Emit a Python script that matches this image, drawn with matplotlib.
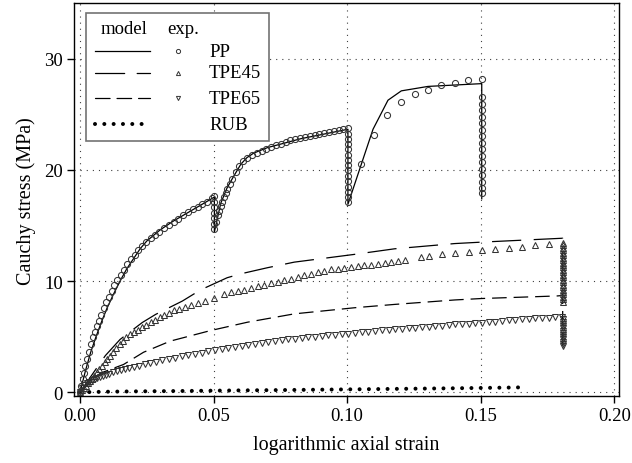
import numpy as np
import matplotlib.pyplot as plt
from matplotlib.patches import Rectangle

plt.rcParams['font.family'] = ['Liberation Serif', 'DejaVu Serif']
plt.rcParams['lines.scale_dashes'] = False
plt.rcParams['font.size'] = 13.5

# ---------------------------------------------------------------- data
# PP model (solid), incl. the three unloading drops
pp_model_x = [0, 0.002, 0.004, 0.006, 0.008, 0.010, 0.0125, 0.015, 0.0175, 0.02, 0.0225, 0.025,
              0.03, 0.035, 0.04, 0.045, 0.0503, 0.0503,
              0.0527, 0.0551, 0.0576, 0.0602, 0.0625, 0.065, 0.0702, 0.0765, 0.0827, 0.089, 0.0952,
              0.1003, 0.1003,
              0.1097, 0.1153, 0.1203, 0.1303, 0.1504, 0.1504]
pp_model_y = [0, 1.9, 3.6, 5.0, 6.3, 7.5, 8.8, 10.0, 11.1, 12.0, 12.9, 13.6,
              14.6, 15.4, 16.1, 16.8, 17.55, 14.4,
              17.0, 18.4, 19.45, 20.5, 21.1, 21.5, 22.0, 22.4, 22.8, 23.1, 23.4,
              23.65, 16.9,
              23.65, 26.26, 27.1, 27.5, 27.75, 17.4]

# PP experiment (circles)
pp_load1_x = [0, 0.0005, 0.001, 0.0015, 0.002, 0.0027, 0.0034, 0.0041, 0.0048, 0.0056, 0.0064,
              0.0072, 0.008, 0.0089, 0.0098, 0.0108, 0.0118, 0.0129, 0.014, 0.0152, 0.0164,
              0.0177, 0.019, 0.0204, 0.0218, 0.0233, 0.0248, 0.0264, 0.028, 0.0297, 0.0314,
              0.0332, 0.035, 0.0368, 0.0386, 0.0404, 0.0422, 0.044, 0.0458, 0.0476, 0.0494, 0.0503]
pp_load1_y = [0, 0.6, 1.15, 1.75, 2.35, 3.0, 3.65, 4.35, 4.95, 5.45, 5.95,
              6.45, 6.95, 7.55, 8.1, 8.6, 9.1, 9.65, 10.1, 10.55, 11.0,
              11.5, 11.95, 12.35, 12.75, 13.15, 13.5, 13.85, 14.15, 14.45, 14.75,
              15.05, 15.35, 15.6, 15.9, 16.2, 16.45, 16.65, 16.9, 17.15, 17.45, 17.65]
pp_unload1_y = [17.15, 16.65, 16.15, 15.65, 15.15, 14.65]
pp_load2_x = [0.0509, 0.0515, 0.052, 0.0526, 0.0532, 0.0539, 0.0545, 0.0551, 0.056, 0.057, 0.0583,
              0.0597, 0.0612, 0.0627, 0.0644, 0.0662, 0.068, 0.0698, 0.0716, 0.0734, 0.0752,
              0.077, 0.0788, 0.0806, 0.0824, 0.0842, 0.086, 0.0878, 0.0896, 0.0914, 0.0932,
              0.095, 0.0968, 0.0986, 0.1003]
pp_load2_y = [15.3, 15.9, 16.3, 16.75, 17.15, 17.55, 17.9, 18.25, 18.7, 19.15, 19.8,
              20.35, 20.75, 21.05, 21.3, 21.5, 21.7, 21.9, 22.05, 22.2, 22.35,
              22.5, 22.65, 22.75, 22.85, 22.95, 23.0, 23.1, 23.2, 23.3, 23.4,
              23.45, 23.55, 23.65, 23.75]
pp_unload2_y = [23.25, 22.8, 22.3, 21.85, 21.35, 20.9, 20.4, 19.95, 19.45, 19.0, 18.5, 18.05,
                17.55, 17.1]
pp_load3_x = [0.1053, 0.11, 0.115, 0.12, 0.1253, 0.1303, 0.1353, 0.1403, 0.1453, 0.1504]
pp_load3_y = [20.5, 23.1, 24.9, 26.1, 26.8, 27.2, 27.6, 27.85, 28.05, 28.2]
pp_unload3_y = [26.55, 25.95, 25.35, 24.75, 24.2, 23.6, 23.0, 22.45, 21.85, 21.25, 20.7, 20.1,
                19.5, 18.95, 18.4, 17.95]

# TPE45 model (long dashes) and experiment (up triangles)
tpe45_model_x = [0, 0.005, 0.0095, 0.015, 0.0233, 0.0283, 0.0383, 0.0451, 0.0551, 0.0602, 0.0702,
                 0.0802, 0.0915, 0.1028, 0.1178, 0.1403, 0.1504, 0.1807, 0.1807]
tpe45_model_y = [0, 1.75, 3.3, 4.75, 6.27, 7.0, 8.2, 9.2, 10.3, 10.65, 11.2,
                 11.7, 12.05, 12.4, 12.9, 13.37, 13.5, 13.85, 8.1]
tpe45_exp_x = [0, 0.0007, 0.0014, 0.0021, 0.0029, 0.0037, 0.0045, 0.0054, 0.0063, 0.0072, 0.0082,
               0.0092, 0.0102, 0.0113, 0.0124, 0.0136, 0.0148, 0.0161, 0.0174, 0.0188, 0.0202,
               0.0217, 0.0232, 0.0248, 0.0264, 0.0281, 0.0298, 0.0316, 0.0334, 0.0353, 0.0372,
               0.0393, 0.0415, 0.044, 0.0468, 0.05, 0.054, 0.0565, 0.059, 0.0615, 0.064, 0.0665,
               0.069, 0.0715, 0.074, 0.0765, 0.079, 0.0815, 0.084, 0.0865, 0.089, 0.0915, 0.094,
               0.0965, 0.099, 0.1015, 0.104, 0.1065, 0.109, 0.1115, 0.114, 0.1165, 0.119, 0.1215,
               0.1275, 0.1305, 0.1355, 0.1405, 0.1455, 0.1505, 0.1555, 0.1605, 0.1655, 0.1705,
               0.1755, 0.1807]
tpe45_exp_y = [0, 0.2, 0.4, 0.6, 0.8, 0.98, 1.17, 1.48, 1.78, 2.07, 2.38,
               2.7, 3.0, 3.3, 3.6, 3.95, 4.3, 4.65, 4.95, 5.2, 5.42,
               5.63, 5.84, 6.06, 6.28, 6.53, 6.74, 6.96, 7.16, 7.36, 7.5,
               7.65, 7.82, 8.02, 8.24, 8.48, 8.82, 8.98, 9.1, 9.23, 9.38, 9.52,
               9.66, 9.8, 9.93, 10.05, 10.2, 10.36, 10.52, 10.66, 10.8, 10.93, 11.04,
               11.12, 11.18, 11.24, 11.32, 11.4, 11.47, 11.54, 11.63, 11.72, 11.82, 11.92,
               12.18, 12.27, 12.4, 12.53, 12.65, 12.77, 12.87, 13.0, 13.1, 13.25,
               13.37, 13.46]
tpe45_unload_y = [13.2, 12.98, 12.76, 12.54, 12.32, 12.1, 11.88, 11.66, 11.44, 11.22, 11.0, 10.78,
                  10.56, 10.34, 10.12, 9.9, 9.68, 9.46, 9.24, 9.02, 8.8, 8.58, 8.36, 8.1]

# TPE65 model (medium dashes) and experiment (down triangles)
tpe65_model_x = [0, 0.004, 0.008, 0.0163, 0.0238, 0.0338, 0.0489, 0.0627, 0.0802, 0.1028, 0.1178,
                 0.1403, 0.1504, 0.1786, 0.1807, 0.1807]
tpe65_model_y = [0, 1.0, 1.75, 2.5, 3.6, 4.6, 5.55, 6.3, 7.05, 7.6, 7.9,
                 8.3, 8.43, 8.66, 8.7, 4.2]
tpe65_exp_x = [0, 0.0008, 0.0016, 0.0025, 0.0035, 0.0045, 0.0055, 0.0065, 0.0075, 0.0086, 0.0098,
               0.011, 0.0123, 0.0137, 0.0152, 0.0168, 0.0185, 0.0203, 0.0222, 0.0242, 0.0263,
               0.0285, 0.0308, 0.0332, 0.0356, 0.038, 0.0405, 0.043, 0.0455, 0.048, 0.0505, 0.053,
               0.0555, 0.058, 0.0605, 0.063, 0.0655, 0.068, 0.0705, 0.073, 0.0755, 0.078, 0.0805,
               0.083, 0.0855, 0.088, 0.0905, 0.093, 0.0955, 0.098, 0.1005, 0.103, 0.1055, 0.108,
               0.1105, 0.113, 0.1155, 0.118, 0.1205, 0.123, 0.1255, 0.128, 0.1305, 0.133, 0.1355,
               0.138, 0.1405, 0.143, 0.1455, 0.148, 0.1505, 0.153, 0.1555, 0.158, 0.1605, 0.163,
               0.1655, 0.168, 0.1705, 0.173, 0.1755, 0.178, 0.1805]
tpe65_exp_y = [0, 0.35, 0.62, 0.8, 0.95, 1.08, 1.18, 1.28, 1.37, 1.46, 1.56,
               1.67, 1.78, 1.88, 1.97, 2.06, 2.16, 2.27, 2.38, 2.5, 2.62,
               2.74, 2.86, 2.99, 3.11, 3.23, 3.33, 3.43, 3.55, 3.67, 3.79, 3.9,
               4.0, 4.09, 4.18, 4.27, 4.36, 4.45, 4.53, 4.6, 4.68, 4.75, 4.83,
               4.89, 4.95, 5.01, 5.07, 5.13, 5.18, 5.23, 5.28, 5.34, 5.4, 5.46,
               5.51, 5.56, 5.62, 5.67, 5.72, 5.77, 5.82, 5.86, 5.91, 5.95, 6.0,
               6.05, 6.1, 6.13, 6.17, 6.22, 6.27, 6.31, 6.36, 6.41, 6.46, 6.51,
               6.56, 6.6, 6.64, 6.68, 6.72, 6.76, 6.8]
tpe65_unload_y = [6.55, 6.35, 6.15, 5.95, 5.75, 5.55, 5.35, 5.15, 4.95, 4.75, 4.55, 4.35, 4.16]

# RUB model (dots)
rub_x = [0, 0.01, 0.02, 0.04, 0.06, 0.08, 0.10, 0.12, 0.14, 0.16, 0.167]
rub_y = [0.0, 0.05, 0.08, 0.12, 0.17, 0.21, 0.26, 0.31, 0.36, 0.42, 0.45]

names = ['PP', 'TPE45', 'TPE65', 'RUB']

# ---------------------------------------------------------------- plot
ls_pp = '-'
ls_45 = (0, (21, 9))
ls_65 = (0, (10.5, 5))
ls_rub = (0, (0.01, 6.7))
ls_grid = (0, (0.8, 3.6))
rub_lw = 2.9

fig = plt.figure(figsize=(6.32, 4.64), dpi=100)
ax = fig.add_axes([0.1171, 0.1438, 0.8628, 0.8476])

ax.plot(pp_model_x, pp_model_y, color='k', lw=0.9, linestyle=ls_pp, zorder=3)
ax.plot(tpe45_model_x, tpe45_model_y, color='k', lw=0.9, linestyle=ls_45, zorder=3)
ax.plot(tpe65_model_x, tpe65_model_y, color='k', lw=0.9, linestyle=ls_65, zorder=3)
ax.plot(rub_x, rub_y, color='k', lw=rub_lw, linestyle=ls_rub, dash_capstyle='round', zorder=3)

mk = dict(linestyle='none', mfc='none', mec='0.2', mew=0.75, zorder=4)
pp_x = np.concatenate([pp_load1_x, [0.0503] * len(pp_unload1_y), pp_load2_x,
                       [0.1003] * len(pp_unload2_y), pp_load3_x, [0.1504] * len(pp_unload3_y)])
pp_y = np.concatenate([pp_load1_y, pp_unload1_y, pp_load2_y, pp_unload2_y, pp_load3_y, pp_unload3_y])
ax.plot(pp_x, pp_y, marker='o', ms=4.4, **mk)
ax.plot(np.concatenate([tpe45_exp_x, [0.1807] * len(tpe45_unload_y)]),
        np.concatenate([tpe45_exp_y, tpe45_unload_y]), marker='^', ms=3.9, **mk)
ax.plot(np.concatenate([tpe65_exp_x, [0.1807] * len(tpe65_unload_y)]),
        np.concatenate([tpe65_exp_y, tpe65_unload_y]), marker='v', ms=3.9, **mk)

ax.set_xlim(-0.00225, 0.2019)
ax.set_ylim(-0.36, 35.0)
ax.set_xticks([0, 0.05, 0.10, 0.15, 0.20])
ax.set_xticklabels(['0.00', '0.05', '0.10', '0.15', '0.20'])
ax.set_yticks([0, 10, 20, 30])
ax.grid(True, color='0.25', lw=0.8, linestyle=ls_grid)
ax.tick_params(direction='out', length=5, width=1, labelsize=13.5, pad=3)
for s in ax.spines.values():
    s.set_linewidth(1.0)
ax.set_xlabel('logarithmic axial strain', fontsize=14.5, labelpad=8)
ax.set_ylabel('Cauchy stress (MPa)', fontsize=14.5, labelpad=6)

# legend box drawn by hand: model line | exp. marker | name
tr = ax.transAxes
ax.add_patch(Rectangle((0.022, 0.6491), 0.3356, 0.3255, facecolor='white', edgecolor='0.45',
                       lw=1.2, transform=tr, zorder=6))
ax.text(0.0917, 0.934, 'model', transform=tr, ha='center', va='center', fontsize=13.5, zorder=7)
ax.text(0.1705, 0.934, 'exp.', transform=tr, ha='left', va='center', fontsize=13.5, zorder=7)
rows = [0.8779, 0.822, 0.7584, 0.6923]
styles = [(ls_pp, 0.9), (ls_45, 0.9), (ls_65, 0.9), (ls_rub, rub_lw)]
markers = ['o', '^', 'v', None]
for name, ry, (ls, lw), m in zip(names, rows, styles, markers):
    ax.plot([0.0385, 0.1394], [ry, ry], color='k', lw=lw, linestyle=ls, dash_capstyle='round',
            transform=tr, zorder=7, clip_on=False)
    if m:
        ax.plot([0.1907], [ry], marker=m, ms=3.0, linestyle='none', mfc='none', mec='0.2',
                mew=0.7, transform=tr, zorder=7, clip_on=False)
    ax.text(0.2476, ry, name, transform=tr, ha='left', va='center', fontsize=13.5, zorder=7)

plt.savefig('out.png', dpi=100)
